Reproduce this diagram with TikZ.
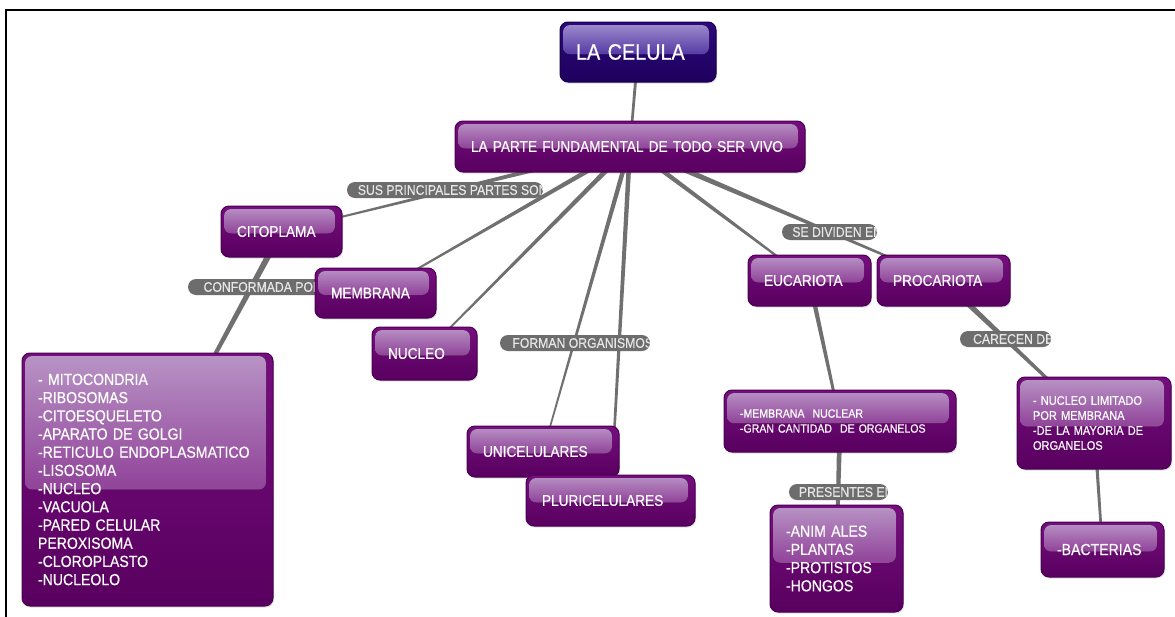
\documentclass[tikz,border=0pt]{standalone}
\usepackage{fontspec}
\setmainfont[FakeStretch=0.88,FakeBold=0.5]{Liberation Sans}
\usetikzlibrary{calc,shadows,backgrounds}

\definecolor{boxtop}{HTML}{760E7E}
\definecolor{boxbot}{HTML}{58005F}
\definecolor{boxline}{HTML}{4A0052}
\definecolor{hltop}{HTML}{B995C6}
\definecolor{hlmid}{HTML}{93489C}
\definecolor{hlbot}{HTML}{80288A}
\definecolor{celtop}{HTML}{2C0A7A}
\definecolor{celbot}{HTML}{1E005E}
\definecolor{celline}{HTML}{18004C}
\definecolor{celhltop}{HTML}{A290D0}
\definecolor{celhlmid}{HTML}{5A40A6}
\definecolor{celhlbot}{HTML}{3E2090}
\definecolor{pillgray}{HTML}{6D6D6D}
\definecolor{pilltext}{HTML}{E6E6E6}
\definecolor{conngray}{HTML}{707070}

\tikzset{
  gloss/.style n args={6}{
    top color=#1, bottom color=#2, draw=#3,
    path picture={
      \fill[top color=#4, bottom color=#6, middle color=#5, rounded corners=7pt]
        ([shift={(3pt,-3pt)}]path picture bounding box.north west) rectangle
        ([xshift=-7pt]$(path picture bounding box.north east)!0.54!(path picture bounding box.south east)$);
    }},
  box/.style={rounded corners=8pt, line width=1pt, text=white, align=left,
    inner xsep=16pt, inner ysep=2pt,
    gloss={boxtop}{boxbot}{boxline}{hltop}{hlmid}{hlbot},
    drop shadow={opacity=0.25, shadow xshift=1pt, shadow yshift=-1.5pt},
    font=\fontsize{15.5}{18}\selectfont},
  celbox/.style={box, gloss={celtop}{celbot}{celline}{celhltop}{celhlmid}{celhlbot},
    font=\fontsize{22.5}{24}\selectfont},
  listfont/.style={font=\fontsize{16}{18.2}\selectfont},
  smallfont/.style={font=\fontsize{12}{15}\selectfont},
  pill/.style={rounded corners=8pt, fill=pillgray, minimum height=16pt, inner sep=0pt,
    path picture={
      \node[text=pilltext, font=\fontsize{13.9}{15}\selectfont, inner sep=0pt, anchor=west]
        at ([xshift=7.5pt]path picture bounding box.west) {#1};
    }},
  conn/.style={fill=conngray},
  taper/.style 2 args={to path={
    ($(\tikztostart)!#1!90:(\tikztotarget)$) --
    ($(\tikztotarget)!#2!-90:(\tikztostart)$) --
    ($(\tikztotarget)!#2!90:(\tikztostart)$) --
    ($(\tikztostart)!#1!-90:(\tikztotarget)$) -- cycle}},
}

\begin{document}
\begin{tikzpicture}[x=1pt,y=-1pt]
\useasboundingbox (0,0) rectangle (1175,616);

% link labels
\node[pill={SUS PRINCIPALES PARTES SON}, minimum width=196pt] (l1) at (445,190) {};
\node[pill={CONFORMADA POR}, minimum width=134pt] (l2) at (255,287) {};
\node[pill={FORMAN ORGANISMOS}, minimum width=150pt] (l3) at (575,343) {};
\node[pill={SE DIVIDEN EN}, minimum width=95pt] (l4) at (829.5,232) {};
\node[pill={CARECEN DE}, minimum width=91pt] (l5) at (1005.5,339) {};
\node[pill={PRESENTES EN}, minimum width=99pt] (l6) at (838.5,492) {};

% concepts
\node[celbox, text width=124pt, minimum height=60pt] (celula) at (638,52) {LA CELULA};
\node[box, text width=318pt, minimum height=51pt] (main) at (630,146.5) {LA PARTE FUNDAMENTAL DE TODO SER VIVO};
\node[box, text width=89pt, minimum height=51pt] (cito) at (281.5,231.5) {CITOPLAMA};
\node[box, text width=89pt, minimum height=50pt] (membrana) at (375.5,293) {MEMBRANA};
\node[box, text width=73pt, minimum height=53pt] (nucleo) at (424.5,353.5) {NUCLEO};
\node[box, text width=120pt, minimum height=51pt] (unicel) at (543,451.5) {UNICELULARES};
\node[box, text width=137pt, minimum height=51pt] (pluri) at (610.5,500.5) {PLURICELULARES};
\node[box, listfont, text width=219pt, minimum height=253pt] (lista) at (147.5,479.5)
  {- MITOCONDRIA\\-RIBOSOMAS\\-CITOESQUELETO\\-APARATO DE GOLGI\\-RETICULO ENDOPLASMATICO\\-LISOSOMA\\-NUCLEO\\-VACUOLA\\-PARED CELULAR\\PEROXISOMA\\-CLOROPLASTO\\-NUCLEOLO};
\node[box, text width=91pt, minimum height=51pt] (euca) at (809.5,280.5) {EUCARIOTA};
\node[box, text width=101pt, minimum height=51pt] (proca) at (943.5,280.5) {PROCARIOTA};
\node[box, smallfont, text width=200pt, minimum height=62pt] (eucrasgos) at (840,421)
  {-MEMBRANA\ \ NUCLEAR\\-GRAN CANTIDAD\ \ DE ORGANELOS};
\node[box, listfont, text width=101pt, minimum height=107pt] (reinos) at (836.5,558.5)
  {-ANIM ALES\\-PLANTAS\\-PROTISTOS\\-HONGOS};
\node[box, font=\fontsize{12.5}{15}\selectfont, text width=122pt, minimum height=92pt] (procrasgos) at (1094,423)
  {- NUCLEO LIMITADO\\POR MEMBRANA\\-DE LA MAYORIA DE\\ORGANELOS};
\node[box, text width=91pt, minimum height=55pt, font=\fontsize{16}{18}\selectfont] (bact) at (1102.5,549.5) {-BACTERIAS};

% frame
\draw[line width=2.5pt] (1190,10) -- (6,10) -- (6,630);

% connectors behind everything
\begin{scope}[on background layer]
  \fill[white] (0,0) rectangle (1175,616);
  \fill[conn, taper={1.6pt}{1.2pt}] (celula) to (main);
  \fill[conn, taper={2.6pt}{0.7pt}] (main) to (cito);
  \fill[conn, taper={2.6pt}{0.7pt}] (main) to (membrana);
  \fill[conn, taper={2.6pt}{0.7pt}] (main) to (nucleo);
  \fill[conn, taper={2.4pt}{0.7pt}] (main) to (unicel);
  \fill[conn, taper={2.4pt}{1.0pt}] (main) to (pluri);
  \fill[conn, taper={2.6pt}{0.8pt}] (main) to (euca);
  \fill[conn, taper={3.0pt}{0.8pt}] (main) to (proca);
  \fill[conn, taper={3.2pt}{0.9pt}] (cito) to (lista);
  \fill[conn, taper={2.4pt}{1.2pt}] (euca) to (eucrasgos);
  \fill[conn, taper={2.6pt}{1.6pt}] (eucrasgos) to (reinos);
  \fill[conn, taper={3.0pt}{1.0pt}] (proca) to (procrasgos);
  \fill[conn, taper={1.8pt}{1.2pt}] (procrasgos) to (bact);
\end{scope}
\end{tikzpicture}
\end{document}
